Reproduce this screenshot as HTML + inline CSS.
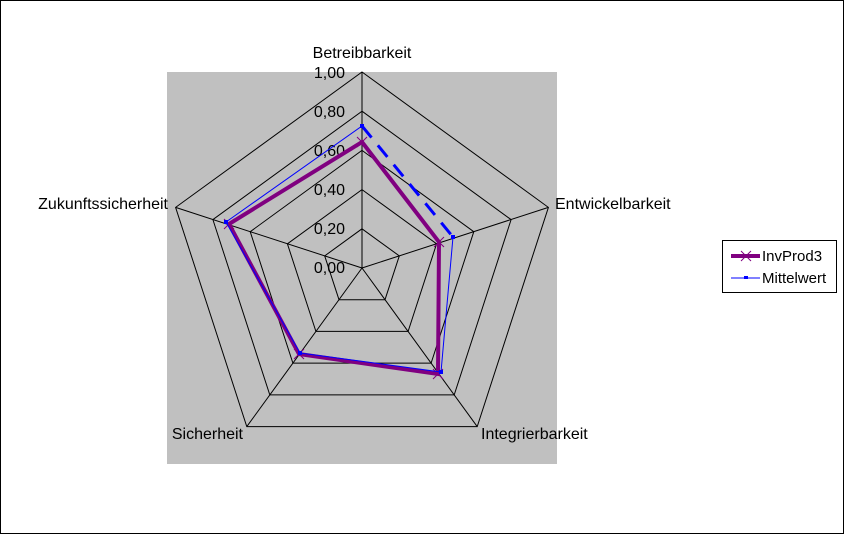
<!DOCTYPE html>
<html><head><meta charset="utf-8"><style>
html,body{margin:0;padding:0;background:#fff}
svg{display:block}
text{font-family:"Liberation Sans",Arial,sans-serif;font-size:16px;fill:#000}
</style></head><body>
<svg width="845" height="535" viewBox="0 0 845 535">
<rect x="0.5" y="0.5" width="843" height="533" fill="#fff" stroke="#000"/>
<rect x="167" y="72" width="390" height="392" fill="#c0c0c0"/>
<g fill="none" stroke="#000" stroke-width="1">
<polygon points="362,228.8 399.3,255.9 385,299.7 339,299.7 324.7,255.9"/>
<polygon points="362,189.6 436.6,243.8 408.1,331.4 315.9,331.4 287.4,243.8"/>
<polygon points="362,150.4 473.8,231.7 431.1,363.1 292.9,363.1 250.2,231.7"/>
<polygon points="362,111.2 511.1,219.6 454.2,394.9 269.8,394.9 212.9,219.6"/>
<polygon points="362,72 548.4,207.4 477.2,426.6 246.8,426.6 175.6,207.4"/>
<line x1="362" y1="268" x2="362" y2="72"/>
<line x1="362" y1="268" x2="548.4" y2="207.4"/>
<line x1="362" y1="268" x2="477.2" y2="426.6"/>
<line x1="362" y1="268" x2="246.8" y2="426.6"/>
<line x1="362" y1="268" x2="175.6" y2="207.4"/>
</g>
<g text-anchor="end">
<text x="345" y="78">1,00</text>
<text x="345" y="117">0,80</text>
<text x="345" y="156">0,60</text>
<text x="345" y="195">0,40</text>
<text x="345" y="234">0,20</text>
<text x="345" y="273">0,00</text>
</g>
<text x="362" y="58" text-anchor="middle">Betreibbarkeit</text>
<text x="555" y="209">Entwickelbarkeit</text>
<text x="481" y="439">Integrierbarkeit</text>
<text x="243" y="439" text-anchor="end">Sicherheit</text>
<text x="168" y="209" text-anchor="end">Zukunftssicherheit</text>
<polygon points="362,142 439,242 438,374 299,354 229,224" fill="none" stroke="#800080" stroke-width="4" stroke-linejoin="miter"/>
<g stroke="#800080" stroke-width="1">
<path d="M357,137 l10,10 M367,137 l-10,10 M434,237 l10,10 M444,237 l-10,10 M433,369 l10,10 M443,369 l-10,10 M294,349 l10,10 M304,349 l-10,10 M224,219 l10,10 M234,219 l-10,10"/>
</g>
<polyline points="453,237 441,372 300,353 226,222 362,126" fill="none" stroke="#0000ff" stroke-width="1"/>
<line x1="362" y1="126" x2="453" y2="237" stroke="#0000ff" stroke-width="3" stroke-dasharray="15,10"/>
<g fill="#0000ff"><rect x="360" y="124" width="4" height="4"/><rect x="451" y="235" width="4" height="4"/><rect x="439" y="370" width="4" height="4"/><rect x="298" y="351" width="4" height="4"/><rect x="224" y="220" width="4" height="4"/></g>
<rect x="722.5" y="240.5" width="114" height="52" fill="#fff" stroke="#000"/>
<line x1="731" y1="256" x2="760" y2="256" stroke="#800080" stroke-width="4"/>
<path d="M741,251 l10,10 M751,251 l-10,10" stroke="#800080"/>
<text x="762" y="261" style="font-size:15px">InvProd3</text>
<line x1="731" y1="278" x2="760" y2="278" stroke="#0000ff" stroke-width="1"/>
<rect x="744" y="276" width="4" height="3" fill="#0000ff"/>
<text x="762" y="283" style="font-size:15px">Mittelwert</text>
</svg>
</body></html>
